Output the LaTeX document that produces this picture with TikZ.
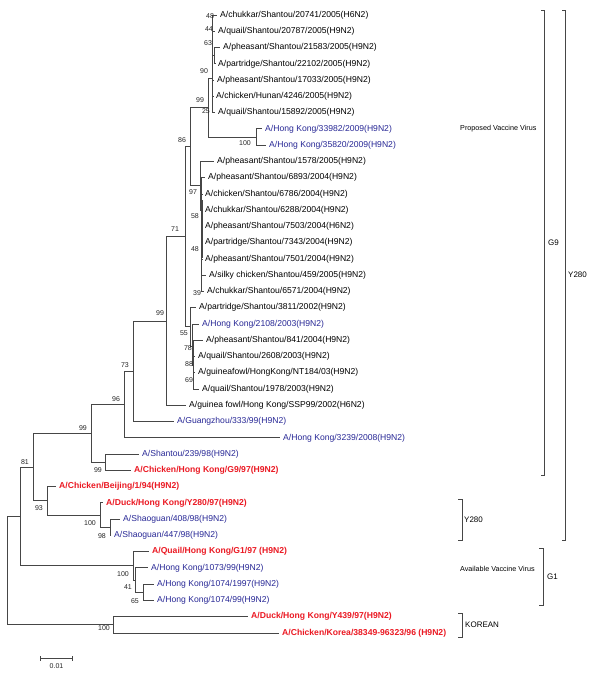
\documentclass[tikz,border=0pt]{standalone}
\usepackage{fontspec}
\setmainfont{Liberation Sans}
\definecolor{leafblue}{RGB}{40,40,150}
\definecolor{leafred}{RGB}{235,25,35}
\definecolor{treeline}{RGB}{70,70,70}
\tikzset{
 br/.style={draw=treeline, line width=0.8pt},
 leaf/.style={anchor=west, inner xsep=3pt, inner ysep=0pt, font=\fontsize{8.6}{10}\selectfont, text=black},
 bleaf/.style={leaf, text=leafblue},
 rleaf/.style={leaf, text=leafred, font=\fontsize{8.6}{10}\selectfont\bfseries},
 boot/.style={inner sep=0pt, font=\fontsize{7}{8}\selectfont, text=black!85},
 clade/.style={anchor=west, inner sep=0pt, font=\fontsize{8}{9}\selectfont},
 note/.style={anchor=west, inner sep=0pt, font=\fontsize{7.2}{8}\selectfont},
}
\begin{document}
\begin{tikzpicture}[x=1pt,y=-1pt]
\useasboundingbox[fill=white] (0,0) rectangle (600,673);
% leaves
\node[leaf]  (L1)  at (217,15)    {A/chukkar/Shantou/20741/2005(H6N2)};
\node[leaf]  (L2)  at (215,31.3)  {A/quail/Shantou/20787/2005(H9N2)};
\node[leaf]  (L3)  at (220,47.5)  {A/pheasant/Shantou/21583/2005(H9N2)};
\node[leaf]  (L4)  at (215,63.8)  {A/partridge/Shantou/22102/2005(H9N2)};
\node[leaf]  (L5)  at (214,80)    {A/pheasant/Shantou/17033/2005(H9N2)};
\node[leaf]  (L6)  at (213,96.3)  {A/chicken/Hunan/4246/2005(H9N2)};
\node[leaf]  (L7)  at (215,112.6) {A/quail/Shantou/15892/2005(H9N2)};
\node[bleaf] (L8)  at (262,128.8) {A/Hong Kong/33982/2009(H9N2)};
\node[bleaf] (L9)  at (266,145.1) {A/Hong Kong/35820/2009(H9N2)};
\node[leaf]  (L10) at (214,161.3) {A/pheasant/Shantou/1578/2005(H9N2)};
\node[leaf]  (L11) at (205,177.6) {A/pheasant/Shantou/6893/2004(H9N2)};
\node[leaf]  (L12) at (202,193.9) {A/chicken/Shantou/6786/2004(H9N2)};
\node[leaf]  (L13) at (202,210.1) {A/chukkar/Shantou/6288/2004(H9N2)};
\node[leaf]  (L14) at (202,226.4) {A/pheasant/Shantou/7503/2004(H6N2)};
\node[leaf]  (L15) at (202,242.6) {A/partridge/Shantou/7343/2004(H9N2)};
\node[leaf]  (L16) at (202,258.9) {A/pheasant/Shantou/7501/2004(H9N2)};
\node[leaf]  (L17) at (206,275.2) {A/silky chicken/Shantou/459/2005(H9N2)};
\node[leaf]  (L18) at (204,291.4) {A/chukkar/Shantou/6571/2004(H9N2)};
\node[leaf]  (L19) at (196,307.7) {A/partridge/Shantou/3811/2002(H9N2)};
\node[bleaf] (L20) at (199,323.9) {A/Hong Kong/2108/2003(H9N2)};
\node[leaf]  (L21) at (203,340.2) {A/pheasant/Shantou/841/2004(H9N2)};
\node[leaf]  (L22) at (195,356.5) {A/quail/Shantou/2608/2003(H9N2)};
\node[leaf]  (L23) at (195,372.7) {A/guineafowl/HongKong/NT184/03(H9N2)};
\node[leaf]  (L24) at (199,389)   {A/quail/Shantou/1978/2003(H9N2)};
\node[leaf]  (L25) at (186,405.2) {A/guinea fowl/Hong Kong/SSP99/2002(H6N2)};
\node[bleaf] (L26) at (174,421.5) {A/Guangzhou/333/99(H9N2)};
\node[bleaf] (L27) at (280,437.8) {A/Hong Kong/3239/2008(H9N2)};
\node[bleaf] (L28) at (139,454)   {A/Shantou/239/98(H9N2)};
\node[rleaf] (L29) at (131,470.3) {A/Chicken/Hong Kong/G9/97(H9N2)};
\node[rleaf] (L30) at (56,486.5)  {A/Chicken/Beijing/1/94(H9N2)};
\node[rleaf] (L31) at (103,502.8) {A/Duck/Hong Kong/Y280/97(H9N2)};
\node[bleaf] (L32) at (120,519.1) {A/Shaoguan/408/98(H9N2)};
\node[bleaf] (L33) at (111,535.3) {A/Shaoguan/447/98(H9N2)};
\node[rleaf] (L34) at (149,551.6) {A/Quail/Hong Kong/G1/97 (H9N2)};
\node[bleaf] (L35) at (148,567.8) {A/Hong Kong/1073/99(H9N2)};
\node[bleaf] (L36) at (154,584.1) {A/Hong Kong/1074/1997(H9N2)};
\node[bleaf] (L37) at (154,600.4) {A/Hong Kong/1074/99(H9N2)};
\node[rleaf] (L38) at (248,616.6) {A/Duck/Hong Kong/Y439/97(H9N2)};
\node[rleaf] (L39) at (279,632.9) {A/Chicken/Korea/38349-96323/96 (H9N2)};
% internal nodes
\coordinate (nA) at (212.5,78);
\coordinate (nB) at (214.5,55.6);
\coordinate (nHK) at (256,137);
\coordinate (n99a) at (208,107.5);
\coordinate (n86) at (190,146.6);
\coordinate (n97) at (200,185.7);
\coordinate (nC) at (201.5,210);
\coordinate (nC1) at (202.4,200);
\coordinate (nC2) at (202.4,258);
\coordinate (n71) at (185,236.7);
\coordinate (n55) at (190,326.8);
\coordinate (nD) at (192,346);
\coordinate (nE) at (193.5,365);
\coordinate (n99b) at (166,321);
\coordinate (n73) at (133,371.2);
\coordinate (n96) at (124,404.5);
\coordinate (n99c) at (91,433.3);
\coordinate (n99d) at (105,462.2);
\coordinate (n81) at (33,467);
\coordinate (n93) at (47,500.8);
\coordinate (n100a) at (100,515);
\coordinate (n98) at (110,527.2);
\coordinate (n20) at (20,516.4);
\coordinate (n100b) at (133,565.8);
\coordinate (n41) at (135,580);
\coordinate (n65) at (143,592.2);
\coordinate (root) at (7,570.6);
\coordinate (nK) at (113,624.8);
% branches
\foreach \l in {L1,L2,L5,L6,L7} \draw[br] (nA) |- (\l.west);
\draw[br] (nA) |- (nB);
\foreach \l in {L3,L4} \draw[br] (nB) |- (\l.west);
\draw[br] (n99a) |- (nA);
\draw[br] (n99a) |- (nHK);
\foreach \l in {L8,L9} \draw[br] (nHK) |- (\l.west);
\draw[br] (n86) |- (n99a);
\draw[br] (n86) |- (n97);
\draw[br] (n97) |- (L10.west);
\draw[br] (n97) |- (nC);
\foreach \l in {L11,L12,L13,L14,L15,L16,L17,L18} \draw[br] (nC) |- (\l.west);
\draw[br] (nC1) -- (nC2);
\draw[br] (n71) |- (n86);
\draw[br] (n71) |- (n55);
\draw[br] (n55) |- (L19.west);
\draw[br] (n55) |- (nD);
\draw[br] (nD) |- (L20.west);
\draw[br] (nD) |- (nE);
\foreach \l in {L21,L22,L23,L24} \draw[br] (nE) |- (\l.west);
\draw[br] (n99b) |- (n71);
\draw[br] (n99b) |- (L25.west);
\draw[br] (n73) |- (n99b);
\draw[br] (n73) |- (L26.west);
\draw[br] (n96) |- (n73);
\draw[br] (n96) |- (L27.west);
\draw[br] (n99c) |- (n96);
\draw[br] (n99c) |- (n99d);
\foreach \l in {L28,L29} \draw[br] (n99d) |- (\l.west);
\draw[br] (n81) |- (n99c);
\draw[br] (n81) |- (n93);
\draw[br] (n93) |- (L30.west);
\draw[br] (n93) |- (n100a);
\draw[br] (n100a) |- (L31.west);
\draw[br] (n100a) |- (n98);
\foreach \l in {L32,L33} \draw[br] (n98) |- (\l.west);
\draw[br] (n20) |- (n81);
\draw[br] (n20) |- (n100b);
\draw[br] (n100b) |- (L34.west);
\draw[br] (n100b) |- (n41);
\draw[br] (n41) |- (L35.west);
\draw[br] (n41) |- (n65);
\foreach \l in {L36,L37} \draw[br] (n65) |- (\l.west);
\draw[br] (root) |- (n20);
\draw[br] (root) |- (nK);
\foreach \l in {L38,L39} \draw[br] (nK) |- (\l.west);
% bootstrap values
\node[boot] (b1)  at (210,16)  {48};
\node[boot] (b2)  at (209,29)  {44};
\node[boot] (b3)  at (208,43)  {63};
\node[boot] (b4)  at (204,71)  {90};
\node[boot] (b5)  at (200,100) {99};
\node[boot] (b6)  at (206,111) {25};
\node[boot] (b7)  at (182,140) {86};
\node[boot] (b8)  at (245,143) {100};
\node[boot] (b9)  at (193,192) {97};
\node[boot] (b10) at (195,216) {58};
\node[boot] (b11) at (195,249) {48};
\node[boot] (b12) at (197,293) {39};
\node[boot] (b13) at (175,229) {71};
\node[boot] (b14) at (184,333) {55};
\node[boot] (b15) at (188,348) {78};
\node[boot] (b16) at (189,364) {88};
\node[boot] (b17) at (189,380) {69};
\node[boot] (b18) at (160,313) {99};
\node[boot] (b19) at (125,365) {73};
\node[boot] (b20) at (116,399) {96};
\node[boot] (b21) at (83,428)  {99};
\node[boot] (b22) at (25,462)  {81};
\node[boot] (b23) at (98,470)  {99};
\node[boot] (b24) at (39,508)  {93};
\node[boot] (b25) at (90,523)  {100};
\node[boot] (b26) at (102,536) {98};
\node[boot] (b27) at (123,574) {100};
\node[boot] (b28) at (128,587) {41};
\node[boot] (b29) at (135,601) {65};
\node[boot] (b30) at (104,628) {100};
% clade brackets
\draw[br] (541,10) -- (544.3,10) -- (544.3,475) -- (541,475);
\node[clade] (g9) at (548,243) {G9};
\draw[br] (562.3,10) -- (565.7,10) -- (565.7,540) -- (562.3,540);
\node[clade] (y280a) at (568,275) {Y280};
\draw[br] (458.3,499) -- (462.3,499) -- (462.3,540) -- (458.3,540);
\node[clade] (y280b) at (464,520) {Y280};
\draw[br] (539.3,548) -- (543.3,548) -- (543.3,605) -- (539.3,605);
\node[clade] (g1) at (547,577) {G1};
\draw[br] (458.3,613) -- (462.3,613) -- (462.3,637) -- (458.3,637);
\node[clade] (kor) at (465,625) {KOREAN};
\node[note] (pvv) at (460,129) {Proposed Vaccine Virus};
\node[note] (avv) at (460,569) {Available Vaccine Virus};
% scale bar
\coordinate (s1) at (40,658.3);
\coordinate (s2) at (72.3,658.3);
\draw[br] (s1) -- (s2);
\draw[br] ([yshift=-2.5pt]s1) -- ([yshift=2.5pt]s1);
\draw[br] ([yshift=-2.5pt]s2) -- ([yshift=2.5pt]s2);
\node[boot] (sc) at (56.5,666.5) {0.01};
\end{tikzpicture}
\end{document}
